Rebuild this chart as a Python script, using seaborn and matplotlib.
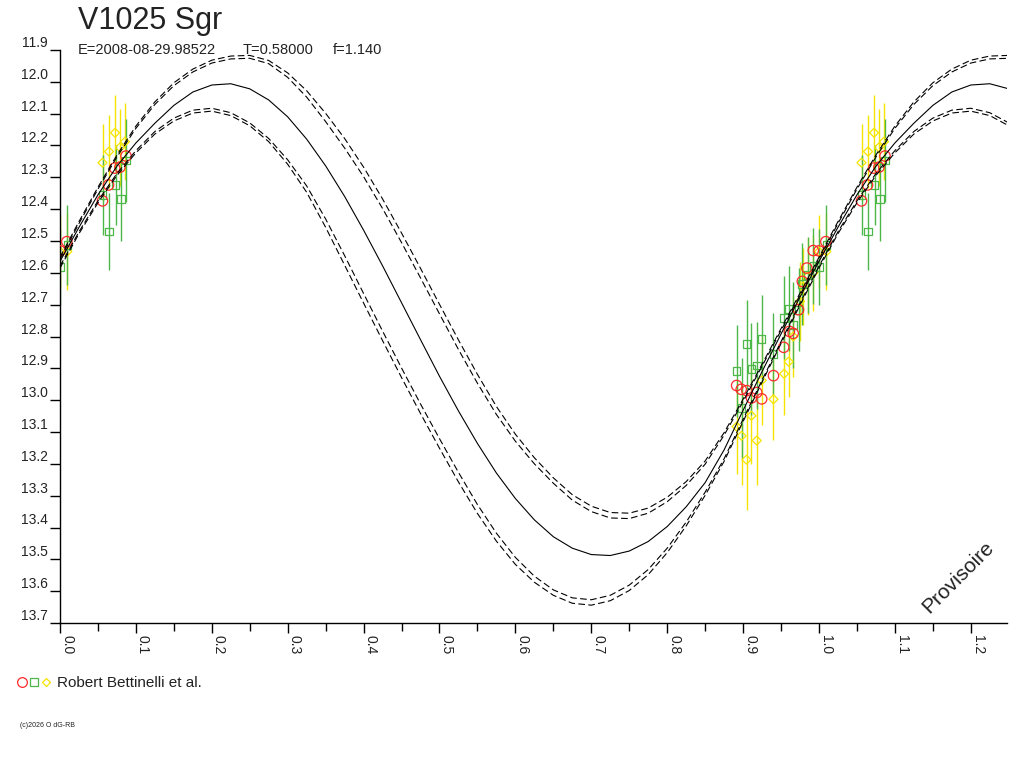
import numpy as np
import pandas as pd
import matplotlib
matplotlib.use("Agg")
import matplotlib.pyplot as plt
import seaborn as sns
from matplotlib.lines import Line2D
from matplotlib.legend_handler import HandlerTuple

# ---- data ----
titre = "V1025 Sgr"
epoque = "E=2008-08-29.98522"
periode = "T=0.58000"
facteur = "f=1.140"
source = "Robert Bettinelli et al."

# model curves over one period, phase 0.000 .. 1.000 every 0.025
phase_modele = [0.000, 0.025, 0.050, 0.075, 0.100, 0.125, 0.150, 0.175, 0.200, 0.225,
                0.250, 0.275, 0.300, 0.325, 0.350, 0.375, 0.400, 0.425, 0.450, 0.475,
                0.500, 0.525, 0.550, 0.575, 0.600, 0.625, 0.650, 0.675, 0.700, 0.725,
                0.750, 0.775, 0.800, 0.825, 0.850, 0.875, 0.900, 0.925, 0.950, 0.975,
                1.000]
mag_moyenne = [12.564, 12.457, 12.355, 12.265, 12.192, 12.130, 12.074, 12.032, 12.010, 12.006,
               12.022, 12.057, 12.110, 12.180, 12.264, 12.360, 12.466, 12.578, 12.694, 12.810,
               12.925, 13.034, 13.136, 13.229, 13.309, 13.376, 13.429, 13.465, 13.485, 13.488,
               13.474, 13.444, 13.397, 13.335, 13.259, 13.156, 13.032, 12.910, 12.792, 12.676,
               12.564]
mag_haut_a = [12.551, 12.439, 12.331, 12.230, 12.139, 12.063, 12.003, 11.960, 11.932, 11.919,
              11.917, 11.933, 11.972, 12.028, 12.099, 12.178, 12.268, 12.368, 12.475, 12.586,
              12.699, 12.811, 12.919, 13.020, 13.107, 13.181, 13.244, 13.297, 13.333, 13.353,
              13.355, 13.339, 13.305, 13.256, 13.191, 13.102, 12.997, 12.887, 12.775, 12.664,
              12.551]
mag_haut_b = [12.557, 12.445, 12.337, 12.236, 12.146, 12.071, 12.012, 11.969, 11.941, 11.928,
              11.926, 11.943, 11.986, 12.048, 12.125, 12.208, 12.298, 12.398, 12.505, 12.616,
              12.729, 12.841, 12.947, 13.045, 13.129, 13.200, 13.261, 13.314, 13.350, 13.370,
              13.372, 13.355, 13.319, 13.268, 13.201, 13.110, 13.004, 12.893, 12.781, 12.670,
              12.557]
mag_bas_a = [12.579, 12.471, 12.374, 12.288, 12.216, 12.156, 12.114, 12.089, 12.083, 12.097,
             12.129, 12.178, 12.245, 12.327, 12.431, 12.546, 12.665, 12.783, 12.899, 13.012,
             13.121, 13.227, 13.328, 13.418, 13.494, 13.553, 13.596, 13.621, 13.627, 13.613,
             13.581, 13.532, 13.465, 13.383, 13.289, 13.184, 13.060, 12.937, 12.816, 12.695,
             12.579]
mag_bas_b = [12.585, 12.477, 12.380, 12.294, 12.223, 12.164, 12.123, 12.098, 12.092, 12.106,
             12.138, 12.188, 12.259, 12.347, 12.457, 12.576, 12.695, 12.813, 12.929, 13.042,
             13.151, 13.257, 13.356, 13.443, 13.516, 13.572, 13.613, 13.638, 13.644, 13.630,
             13.598, 13.548, 13.479, 13.395, 13.299, 13.192, 13.067, 12.943, 12.822, 12.701,
             12.585]

# observations (red circles, green squares, yellow diamonds)
phase_rouge = [0.000, 0.009, 0.056, 0.064, 0.072, 0.079, 0.087,
               0.8915, 0.8975, 0.905, 0.911, 0.918, 0.9245, 0.940, 0.9535, 0.961, 0.966,
               0.973, 0.978, 0.984, 0.9925]
mag_rouge = [12.531, 12.502, 12.374, 12.324, 12.271, 12.268, 12.233,
             12.954, 12.966, 12.970, 12.993, 12.976, 12.996, 12.923, 12.834, 12.784, 12.790,
             12.716, 12.627, 12.585, 12.530]

phase_vert = [0.000, 0.0097, 0.056, 0.0646, 0.0733, 0.080, 0.087,
              0.8915, 0.898, 0.9045, 0.911, 0.918, 0.9245, 0.940, 0.954, 0.960, 0.966,
              0.973, 0.978, 0.985, 0.9925]
mag_vert = [12.582, 12.512, 12.355, 12.470, 12.324, 12.369, 12.247,
            12.908, 13.025, 12.824, 12.903, 12.891, 12.807, 12.855, 12.741, 12.713, 12.763,
            12.716, 12.635, 12.606, 12.578]
err_vert = [0.120, 0.125, 0.125, 0.120, 0.125, 0.130, 0.130,
            0.145, 0.157, 0.140, 0.145, 0.136, 0.138, 0.130, 0.130, 0.133, 0.135,
            0.130, 0.130, 0.120, 0.120]

phase_jaune = [0.000, 0.0097, 0.056, 0.0646, 0.0725, 0.079, 0.0856,
               0.8915, 0.898, 0.9045, 0.911, 0.918, 0.9245, 0.940, 0.954, 0.960, 0.966,
               0.975, 0.979, 0.985, 0.9925]
mag_jaune = [12.533, 12.533, 12.254, 12.219, 12.160, 12.206, 12.188,
             13.083, 13.112, 13.187, 13.049, 13.127, 12.938, 12.997, 12.917, 12.879, 12.800,
             12.690, 12.643, 12.612, 12.600]
err_jaune = [0.115, 0.120, 0.120, 0.115, 0.120, 0.120, 0.120,
             0.150, 0.155, 0.157, 0.150, 0.140, 0.140, 0.127, 0.130, 0.110, 0.126,
             0.125, 0.120, 0.120, 0.120]

PHASE_MAX = 1.2477
ROUGE = "#ff2a2a"
VERT = "#4db848"
JAUNE = "#f5e400"
TEXTE = "#222222"


def replier(phases, *colonnes):
    # repeat each point one cycle later, as on the folded light curve
    df = pd.DataFrame({"phase": phases})
    for i, c in enumerate(colonnes):
        df[f"c{i}"] = c
    df2 = df.copy()
    df2["phase"] = df2["phase"] + 1.0
    df = pd.concat([df, df2], ignore_index=True)
    return df[df["phase"] <= PHASE_MAX + 0.03].reset_index(drop=True)


sns.set_style("ticks")
plt.rcParams["font.family"] = ["Liberation Sans", "DejaVu Sans"]

fig = plt.figure(figsize=(10.24, 7.68), dpi=100)
ax = fig.add_axes([60 / 1024, 1 - 623 / 768, 947 / 1024, 573 / 768])

# model curves
modele = replier(phase_modele, mag_moyenne, mag_haut_a, mag_haut_b, mag_bas_a, mag_bas_b)
sns.lineplot(data=modele, x="phase", y="c0", sort=False, estimator=None,
             color="black", linewidth=0.8, ax=ax, zorder=4)
for col in ["c1", "c2", "c3", "c4"]:
    sns.lineplot(data=modele, x="phase", y=col, sort=False, estimator=None,
                 color="black", linewidth=0.8, linestyle=(0, (6, 3)), ax=ax, zorder=4)

# observations
rouge = replier(phase_rouge, mag_rouge)
vert = replier(phase_vert, mag_vert, err_vert)
jaune = replier(phase_jaune, mag_jaune, err_jaune)

ax.errorbar(jaune["phase"], jaune["c0"], yerr=jaune["c1"], fmt="none",
            ecolor=JAUNE, elinewidth=1.0, capsize=0, zorder=1)
ax.errorbar(vert["phase"], vert["c0"], yerr=vert["c1"], fmt="none",
            ecolor=VERT, elinewidth=1.0, capsize=0, zorder=1)

sns.scatterplot(data=jaune, x="phase", y="c0", marker="D", s=21, color=JAUNE,
                facecolor="none", edgecolor=JAUNE, linewidth=0.9, ax=ax, zorder=2)
sns.scatterplot(data=vert, x="phase", y="c0", marker="s", s=30, color=VERT,
                facecolor="none", edgecolor=VERT, linewidth=0.9, ax=ax, zorder=2)
sns.scatterplot(data=rouge, x="phase", y="c0", marker="o", s=56, color=ROUGE,
                facecolor="none", edgecolor=ROUGE, linewidth=0.9, ax=ax, zorder=3)

# axes
ax.set_xlim(0, PHASE_MAX)
ax.set_ylim(13.7, 11.9)
ax.set_xlabel("")
ax.set_ylabel("")
sns.despine(ax=ax)
for s in ["left", "bottom"]:
    ax.spines[s].set_color("black")
    ax.spines[s].set_linewidth(1.0)

xt = np.round(np.arange(0, 1.21, 0.1), 2)
ax.set_xticks(xt)
ax.set_xticklabels([f"{v:.1f}" for v in xt], rotation=270, ha="left", va="top")
ax.set_xticks(np.round(np.arange(0.05, 1.21, 0.1), 2), minor=True)
yt = np.round(np.arange(11.9, 13.71, 0.1), 2)
ax.set_yticks(yt)
ax.set_yticklabels([f"{v:.1f}" for v in yt], va="bottom")
ax.tick_params(axis="x", which="major", length=7.2, width=1, color="black",
               labelsize=10, labelcolor=TEXTE, pad=1.5)
ax.tick_params(axis="x", which="minor", length=5.8, width=1, color="black")
ax.tick_params(axis="y", which="major", length=7.2, width=1, color="black",
               labelsize=10, labelcolor=TEXTE, pad=1.5)

# texts
fig.text(78 / 1024, 1 - 29 / 768, titre, fontsize=22, color=TEXTE, va="baseline")
fig.text(78 / 1024, 1 - 54 / 768, epoque, fontsize=10.5, color=TEXTE, va="baseline")
fig.text(243 / 1024, 1 - 54 / 768, periode, fontsize=10.5, color=TEXTE, va="baseline")
fig.text(333 / 1024, 1 - 54 / 768, facteur, fontsize=10.5, color=TEXTE, va="baseline")
fig.text(958 / 1024, 1 - 577 / 768, "Provisoire", fontsize=15, color=TEXTE,
         rotation=45, ha="center", va="center", rotation_mode="anchor")
fig.text(20 / 1024, 1 - 727 / 768, "(c)2026 O dG-RB", fontsize=5, color=TEXTE)

# legend
h_rouge = Line2D([], [], marker="o", ls="none", mfc="none", mec=ROUGE, ms=7, mew=0.9)
h_vert = Line2D([], [], marker="s", ls="none", mfc="none", mec=VERT, ms=5.5, mew=0.9)
h_jaune = Line2D([], [], marker="D", ls="none", mfc="none", mec=JAUNE, ms=4.5, mew=0.9)
fig.legend([(h_rouge, h_vert, h_jaune)], [source],
           handler_map={tuple: HandlerTuple(ndivide=None, pad=0.1)},
           loc="center left", bbox_to_anchor=(17 / 1024, 1 - 683 / 768),
           frameon=False, fontsize=11, handlelength=2.2, handletextpad=0.4,
           borderpad=0, borderaxespad=0, labelcolor=TEXTE)

fig.savefig("out.png", dpi=100)
